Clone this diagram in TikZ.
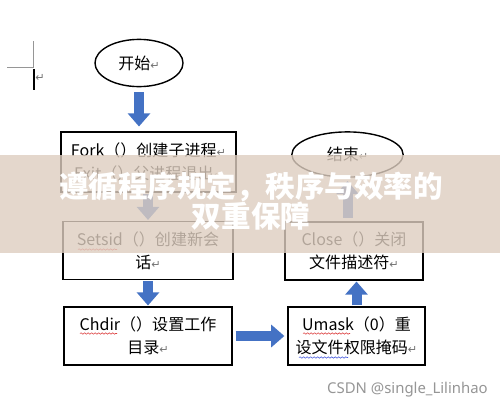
\documentclass[tikz,border=0pt]{standalone}
\usepackage{fontspec}
\setmainfont{Noto Sans CJK SC}
\newfontfamily\symfont{DejaVu Sans}
\newfontfamily\wmfont{Noto Sans}
\usepackage{tikz}
\usetikzlibrary{arrows.meta,shapes.geometric,decorations.pathmorphing}
\usepackage{xcolor}
\definecolor{StepBlue}{RGB}{68,114,196}
\definecolor{BandBeige}{RGB}{222,206,192}
\definecolor{MarkGray}{RGB}{150,150,150}
\definecolor{SpellRed}{RGB}{220,60,60}
\definecolor{SpellBlue}{RGB}{70,90,220}
\newcommand{\retmark}{{\symfont\color{black!55}\fontsize{8}{8}\selectfont ↵}}

\begin{document}
\begin{tikzpicture}[x=0.025cm,y=-0.025cm,
    stepbox/.style={draw,line width=1pt,minimum width=#1,minimum height=1.45cm,align=center,font=\fontsize{11.4}{16.3}\selectfont},
    endpoint/.style={draw,line width=1pt,ellipse,inner sep=0pt,minimum width=#1,font=\fontsize{11.4}{16.3}\selectfont},
    bluearrow/.style={StepBlue,line width=0.25cm,-{Triangle[width=0.55cm,length=0.33cm]},shorten <=#1,shorten >=#1},
    squiggle/.style={#1,line width=0.4pt,decorate,decoration={snake,amplitude=0.5pt,segment length=2.5pt}}]
    \useasboundingbox[fill=white] (0,0) rectangle (500,408);
    % page corner mark
    \draw[MarkGray,line width=0.6pt] (7,67) -- (33,67) -- (33,41);
    \draw[line width=0.8pt] (34,69) -- (34,90);
    \node[inner sep=0pt] (pmark) at (40,78) {\retmark};

    \node[endpoint=2.2cm,minimum height=1.18cm] (start) at (139,63) {开始\retmark};
    \node[stepbox=4.375cm,minimum height=1.5cm] (fork) at (148.5,162) {Fork（）创建子进程\retmark\\Exit（）父进程退出\retmark};
    \node[stepbox=4.25cm] (setsid) at (148,250.5) {Setsid（）创建新会\\话\retmark};
    \node[stepbox=4.2cm] (chdir) at (148,336) {Chdir（）设置工作\\目录\retmark};
    \node[stepbox=3.43cm] (umask) at (356.5,336) {Umask（0）重\\设文件权限掩码\retmark};
    \node[stepbox=3.45cm] (close) at (354,251) {Close（）关闭\\文件描述符\retmark};
    \node[endpoint=2.78cm,minimum height=1.13cm] (finish) at (347.5,154.5) {结束\retmark};

    % spell check marks
    \draw[squiggle=SpellRed] (78,249.5) -- (117,249.5);
    \draw[squiggle=SpellRed] (80,333.5) -- (117,333.5);
    \draw[squiggle=SpellRed] (303,333.5) -- (350,333.5);
    \draw[squiggle=SpellBlue] (299,357.5) -- (348,357.5);

    \draw[bluearrow=0.12cm] (start.south) -- (start.south |- fork.north);
    \draw[bluearrow=0.02cm] (fork.south -| setsid.north) -- (setsid.north);
    \draw[bluearrow=0.02cm] (setsid.south) -- (chdir.north);
    \draw[bluearrow=0.07cm] (chdir.east) -- (umask.west);
    \draw[bluearrow=0.02cm] (umask.north) -- (umask.north |- close.south);
    \draw[bluearrow=0.08cm] (close.north -| finish.south) -- (finish.south);

    % title band over the chart
    \fill[BandBeige,opacity=0.8] (0,155) rectangle (500,253);
    \node[white,font=\fontsize{21}{21.5}\selectfont\bfseries,align=center] (title) at (251,201) {遵循程序规定，秩序与效率的\\双重保障};

    \node[MarkGray,font=\wmfont\fontsize{10.6}{12}\selectfont,anchor=east,inner sep=0pt] (wmark) at (488,390) {CSDN @single\_Lilinhao};
\end{tikzpicture}
\end{document}
